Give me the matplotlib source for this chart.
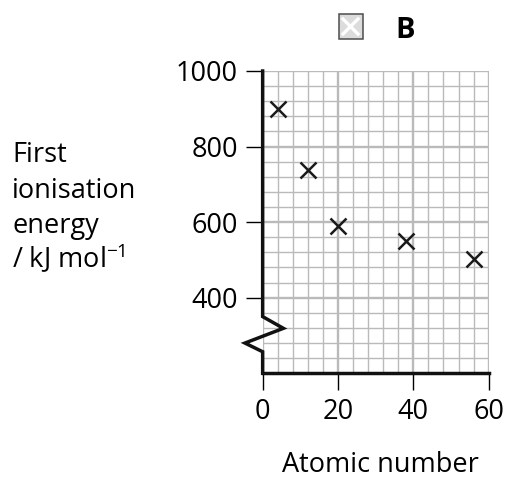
import numpy as np
import matplotlib
matplotlib.use("Agg")
import matplotlib.pyplot as plt
from matplotlib.patches import Rectangle
from matplotlib.lines import Line2D

plt.rcParams['font.family'] = ['Open Sans', 'DejaVu Sans']
plt.rcParams['mathtext.fontset'] = 'custom'
plt.rcParams['mathtext.rm'] = 'Open Sans'

# data (group 2: Be, Mg, Ca, Sr, Ba)
atomic_number = [4, 12, 20, 38, 56]
first_ie = [900, 738, 590, 550, 503]
x_ticks = [0, 20, 40, 60]
y_ticks = [400, 600, 800, 1000]
y_label_lines = ["First", "ionisation", "energy", "/ kJ mol$^{\\mathregular{-1}}$"]

grid_grey = "#bababa"
fs = 19.5

fig = plt.figure(figsize=(5.09, 4.79), dpi=100)
ax = fig.add_axes([0.516, 0.2207, 0.444, 0.6311])
ax.set_xlim(0, 60)
ax.set_ylim(200, 1000)

# graph paper grid
ax.set_xticks(x_ticks)
ax.set_yticks(y_ticks)
ax.set_xticks(np.arange(0, 61, 4), minor=True)
ax.set_yticks(np.arange(200, 1001, 40), minor=True)
ax.grid(which='minor', color=grid_grey, linewidth=1.0)
ax.grid(which='major', color=grid_grey, linewidth=1.7)
ax.set_axisbelow(True)
ax.tick_params(which='minor', length=0)
ax.tick_params(which='major', length=12, width=1.0, color='black',
               labelsize=fs, pad=6)

for side in ['top', 'right', 'left']:
    ax.spines[side].set_visible(False)
ax.spines['bottom'].set_linewidth(2.5)
ax.spines['bottom'].set_color('#111111')

# left axis with a scale break
ax.plot([0, 0, 5.5, -4.7, 0, 0], [1000, 350, 319, 280, 257, 200],
        color='#111111', linewidth=2.5, clip_on=False, zorder=5,
        solid_joinstyle='miter')

ax.plot(atomic_number, first_ie, linestyle='none', marker='x',
        markersize=11.5, markeredgewidth=1.8, color='#1a1a1a', zorder=6)

fig.text(380 / 509, 1 - 472 / 479, "Atomic number", ha='center',
         va='baseline', fontsize=fs)

baselines = [162, 198, 233, 268]
for line, yb in zip(y_label_lines, baselines):
    fig.text(12 / 509, 1 - yb / 479, line, ha='left', va='baseline',
             fontsize=fs)

# answer option box "B"
fig.patches.append(Rectangle((338.5 / 509, 1 - 39 / 479), 24 / 509, 25 / 479,
                             transform=fig.transFigure, facecolor='#dcdcdc',
                             edgecolor='#4d4d4d', linewidth=1.1))
fig.lines.append(Line2D([343 / 509, 358 / 509], [1 - 19 / 479, 1 - 34 / 479],
                        transform=fig.transFigure, color='white', linewidth=2.4))
fig.lines.append(Line2D([343 / 509, 358 / 509], [1 - 34 / 479, 1 - 19 / 479],
                        transform=fig.transFigure, color='white', linewidth=2.4))
fig.text(405.5 / 509, 1 - 38 / 479, "B", ha='center', va='baseline',
         fontsize=21, fontweight='bold')

fig.savefig("out.png", dpi=100)
